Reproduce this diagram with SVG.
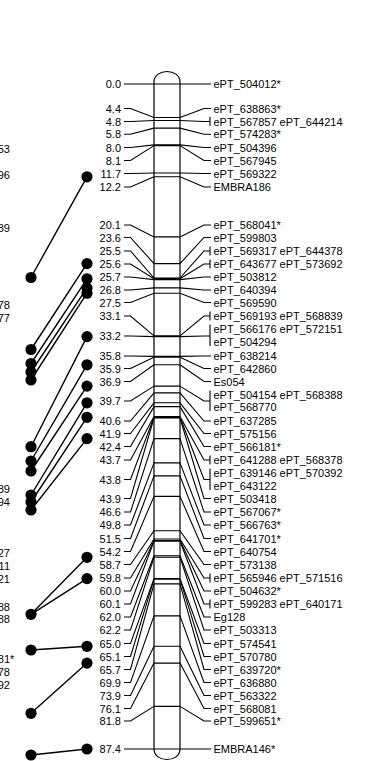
<svg xmlns="http://www.w3.org/2000/svg" width="368" height="761" viewBox="0 0 368 761">
<style>
text{font-family:"Liberation Sans",Arial,sans-serif;font-size:11px;fill:#000}
.l{text-anchor:end}
.t{fill:none;stroke:#000;stroke-width:1.1}
.c{fill:none;stroke:#000;stroke-width:1.4}
.d{fill:#000}
.chr{fill:#fff;stroke:#000;stroke-width:1.2}
.loc{stroke:#000;stroke-width:1.1}
</style>
<rect width="368" height="761" fill="#fff"/>
<g id="prev-labels">
<text class="l" x="10" y="153">53</text>
<text class="l" x="10" y="179">96</text>
<text class="l" x="10" y="232">89</text>
<text class="l" x="10" y="308.5">78</text>
<text class="l" x="10" y="321.5">77</text>
<text class="l" x="10" y="492.5">89</text>
<text class="l" x="10" y="505.5">94</text>
<text class="l" x="10" y="557">27</text>
<text class="l" x="10" y="570">11</text>
<text class="l" x="10" y="583">21</text>
<text class="l" x="10" y="610.5">88</text>
<text class="l" x="10" y="623">88</text>
<text class="l" x="14.3" y="663">181*</text>
<text class="l" x="10" y="676">78</text>
<text class="l" x="10" y="689">92</text>
</g>
<g id="connectors">
<path class="c" d="M87,176.8L31,277.5M87,263.6L31,349.5M87,278.8L31,363.5M87,287.9L31,372M87,293.2L31,380M87,336.6L31,446.7M87,364.8L31,461M87,386.1L31,471M87,402.8L31,495M87,417.3L31,502M87,438.6L31,510M87,557.3L31,614.3M87,578.6L31,614.3M87,646.3L31,650M87,663.1L31,713.3M87,749L31,755"/>
</g>
<g id="dots">
<circle class="d" cx="87" cy="176.8" r="5.6"/>
<circle class="d" cx="87" cy="263.6" r="5.6"/>
<circle class="d" cx="87" cy="278.8" r="5.6"/>
<circle class="d" cx="87" cy="287.9" r="5.6"/>
<circle class="d" cx="87" cy="293.2" r="5.6"/>
<circle class="d" cx="87" cy="336.6" r="5.6"/>
<circle class="d" cx="87" cy="364.8" r="5.6"/>
<circle class="d" cx="87" cy="386.1" r="5.6"/>
<circle class="d" cx="87" cy="402.8" r="5.6"/>
<circle class="d" cx="87" cy="417.3" r="5.6"/>
<circle class="d" cx="87" cy="438.6" r="5.6"/>
<circle class="d" cx="87" cy="557.3" r="5.6"/>
<circle class="d" cx="87" cy="578.6" r="5.6"/>
<circle class="d" cx="87" cy="646.3" r="5.6"/>
<circle class="d" cx="87" cy="663.1" r="5.6"/>
<circle class="d" cx="87" cy="749" r="5.6"/>
<circle class="d" cx="31" cy="277.5" r="5.6"/>
<circle class="d" cx="31" cy="349.5" r="5.6"/>
<circle class="d" cx="31" cy="363.5" r="5.6"/>
<circle class="d" cx="31" cy="372" r="5.6"/>
<circle class="d" cx="31" cy="380" r="5.6"/>
<circle class="d" cx="31" cy="446.7" r="5.6"/>
<circle class="d" cx="31" cy="461" r="5.6"/>
<circle class="d" cx="31" cy="471" r="5.6"/>
<circle class="d" cx="31" cy="495" r="5.6"/>
<circle class="d" cx="31" cy="502" r="5.6"/>
<circle class="d" cx="31" cy="510" r="5.6"/>
<circle class="d" cx="31" cy="614.3" r="5.6"/>
<circle class="d" cx="31" cy="650" r="5.6"/>
<circle class="d" cx="31" cy="713.3" r="5.6"/>
<circle class="d" cx="31" cy="755" r="5.6"/>
</g>
<g id="chromosome">
<path class="chr" d="M154,749V82C154,68 180,68 180,82V749C180,763 154,763 154,749Z"/>
<path class="loc" d="M154,84H180M154,117.5H180M154,120.5H180M154,128.1H180M154,144.9H180M154,145.6H180M154,173H180M154,176.8H180M154,236.9H180M154,263.6H180M154,278H180M154,278.8H180M154,279.6H180M154,287.9H180M154,293.2H180M154,335.9H180M154,336.6H180M154,356.4H180M154,357.2H180M154,364.8H180M154,386.1H180M154,392.9H180M154,402.8H180M154,406.6H180M154,416.5H180M154,417.3H180M154,418H180M154,438.6H180M154,462.9H180M154,475.9H180M154,496.4H180M154,530.7H180M154,539H180M154,540.5H180M154,541.3H180M154,555.8H180M154,557.3H180M154,578.6H180M154,579.3H180M154,583.9H180M154,615.9H180M154,646.3H180M154,663.1H180M154,706.4H180M154,749H180"/>
</g>
<g id="m0"><path class="t" d="M124,84H154M180,84H211"/><text class="l" x="121" y="88">0.0</text><text x="213.5" y="88">ePT_504012*</text></g>
<g id="m1"><path class="t" d="M124,108.5H130.5L154,117.5M180,117.5L204,108.5H211"/><text class="l" x="121" y="112.5">4.4</text><text x="213.5" y="112.5">ePT_638863*</text></g>
<g id="m2"><path class="t" d="M124,121.5H130.5L154,120.5M180,120.5L204,121.5H210M210,117V126"/><text class="l" x="121" y="125.5">4.8</text><text x="213.5" y="125.5">ePT_567857 ePT_644214</text></g>
<g id="m3"><path class="t" d="M124,134.3H130.5L154,128.1M180,128.1L204,134.3H211"/><text class="l" x="121" y="138.3">5.8</text><text x="213.5" y="138.3">ePT_574283*</text></g>
<g id="m4"><path class="t" d="M124,147.5H130.5L154,144.9M180,144.9L204,147.5H211"/><text class="l" x="121" y="151.5">8.0</text><text x="213.5" y="151.5">ePT_504396</text></g>
<g id="m5"><path class="t" d="M124,160.5H130.5L154,145.6M180,145.6L204,160.5H211"/><text class="l" x="121" y="164.5">8.1</text><text x="213.5" y="164.5">ePT_567945</text></g>
<g id="m6"><path class="t" d="M124,173.5H130.5L154,173M180,173L204,173.5H211"/><text class="l" x="121" y="177.5">11.7</text><text x="213.5" y="177.5">ePT_569322</text></g>
<g id="m7"><path class="t" d="M124,187H130.5L154,176.8M180,176.8L204,187H211"/><text class="l" x="121" y="191">12.2</text><text x="213.5" y="191">EMBRA186</text></g>
<g id="m8"><path class="t" d="M124,225H130.5L154,236.9M180,236.9L204,225H211"/><text class="l" x="121" y="229">20.1</text><text x="213.5" y="229">ePT_568041*</text></g>
<g id="m9"><path class="t" d="M124,237.5H130.5L154,263.6M180,263.6L204,237.5H211"/><text class="l" x="121" y="241.5">23.6</text><text x="213.5" y="241.5">ePT_599803</text></g>
<g id="m10"><path class="t" d="M124,251H130.5L154,278M180,278L204,251H210M210,246.5V255.5"/><text class="l" x="121" y="255">25.5</text><text x="213.5" y="255">ePT_569317 ePT_644378</text></g>
<g id="m11"><path class="t" d="M124,264H130.5L154,278.8M180,278.8L204,264H210M210,259.5V268.5"/><text class="l" x="121" y="268">25.6</text><text x="213.5" y="268">ePT_643677 ePT_573692</text></g>
<g id="m12"><path class="t" d="M124,277H130.5L154,279.6M180,279.6L204,277H211"/><text class="l" x="121" y="281">25.7</text><text x="213.5" y="281">ePT_503812</text></g>
<g id="m13"><path class="t" d="M124,290H130.5L154,287.9M180,287.9L204,290H211"/><text class="l" x="121" y="294">26.8</text><text x="213.5" y="294">ePT_640394</text></g>
<g id="m14"><path class="t" d="M124,302.5H130.5L154,293.2M180,293.2L204,302.5H211"/><text class="l" x="121" y="306.5">27.5</text><text x="213.5" y="306.5">ePT_569590</text></g>
<g id="m15"><path class="t" d="M124,316H130.5L154,335.9M180,335.9L204,316H210M210,311.5V320.5"/><text class="l" x="121" y="320">33.1</text><text x="213.5" y="320">ePT_569193 ePT_568839</text></g>
<g id="m16"><path class="t" d="M124,336H130.5L154,336.6M180,336.6L204,336H210M210,324.5V346"/><text class="l" x="121" y="340">33.2</text><text x="213.5" y="333">ePT_566176 ePT_572151</text><text x="213.5" y="346">ePT_504294</text></g>
<g id="m17"><path class="t" d="M124,356H130.5L154,356.4M180,356.4L204,356H211"/><text class="l" x="121" y="360">35.8</text><text x="213.5" y="360">ePT_638214</text></g>
<g id="m18"><path class="t" d="M124,368.5H130.5L154,357.2M180,357.2L204,368.5H211"/><text class="l" x="121" y="372.5">35.9</text><text x="213.5" y="372.5">ePT_642860</text></g>
<g id="m19"><path class="t" d="M124,381.5H130.5L154,364.8M180,364.8L204,381.5H211"/><text class="l" x="121" y="385.5">36.9</text><text x="213.5" y="385.5">Es054</text></g>
<g id="m20"><path class="t" d="M124,401H130.5L154,386.1M180,386.1L204,401H210M210,390.5V411"/><text class="l" x="121" y="405">39.7</text><text x="213.5" y="399">ePT_504154 ePT_568388</text><text x="213.5" y="411">ePT_568770</text></g>
<g id="m21"><path class="t" d="M124,421H130.5L154,392.9M180,392.9L204,421H211"/><text class="l" x="121" y="425">40.6</text><text x="213.5" y="425">ePT_637285</text></g>
<g id="m22"><path class="t" d="M124,433.5H130.5L154,402.8M180,402.8L204,433.5H211"/><text class="l" x="121" y="437.5">41.9</text><text x="213.5" y="437.5">ePT_575156</text></g>
<g id="m23"><path class="t" d="M124,446.5H130.5L154,406.6M180,406.6L204,446.5H211"/><text class="l" x="121" y="450.5">42.4</text><text x="213.5" y="450.5">ePT_566181*</text></g>
<g id="m24"><path class="t" d="M124,460H130.5L154,416.5M180,416.5L204,460H210M210,455.5V464.5"/><text class="l" x="121" y="464">43.7</text><text x="213.5" y="464">ePT_641288 ePT_568378</text></g>
<g id="m25"><path class="t" d="M124,479.5H130.5L154,417.3M180,417.3L204,479.5H210M210,468.5V490"/><text class="l" x="121" y="483.5">43.8</text><text x="213.5" y="477">ePT_639146 ePT_570392</text><text x="213.5" y="490">ePT_643122</text></g>
<g id="m26"><path class="t" d="M124,498.5H130.5L154,418M180,418L204,498.5H211"/><text class="l" x="121" y="502.5">43.9</text><text x="213.5" y="502.5">ePT_503418</text></g>
<g id="m27"><path class="t" d="M124,512H130.5L154,438.6M180,438.6L204,512H211"/><text class="l" x="121" y="516">46.6</text><text x="213.5" y="516">ePT_567067*</text></g>
<g id="m28"><path class="t" d="M124,525H130.5L154,462.9M180,462.9L204,525H211"/><text class="l" x="121" y="529">49.8</text><text x="213.5" y="529">ePT_566763*</text></g>
<g id="m29"><path class="t" d="M124,538.5H130.5L154,475.9M180,475.9L204,538.5H211"/><text class="l" x="121" y="542.5">51.5</text><text x="213.5" y="542.5">ePT_641701*</text></g>
<g id="m30"><path class="t" d="M124,551.5H130.5L154,496.4M180,496.4L204,551.5H211"/><text class="l" x="121" y="555.5">54.2</text><text x="213.5" y="555.5">ePT_640754</text></g>
<g id="m31"><path class="t" d="M124,564.5H130.5L154,530.7M180,530.7L204,564.5H211"/><text class="l" x="121" y="568.5">58.7</text><text x="213.5" y="568.5">ePT_573138</text></g>
<g id="m32"><path class="t" d="M124,578H130.5L154,539M180,539L204,578H210M210,573.5V582.5"/><text class="l" x="121" y="582">59.8</text><text x="213.5" y="582">ePT_565946 ePT_571516</text></g>
<g id="m33"><path class="t" d="M124,591H130.5L154,540.5M180,540.5L204,591H211"/><text class="l" x="121" y="595">60.0</text><text x="213.5" y="595">ePT_504632*</text></g>
<g id="m34"><path class="t" d="M124,604H130.5L154,541.3M180,541.3L204,604H210M210,599.5V608.5"/><text class="l" x="121" y="608">60.1</text><text x="213.5" y="608">ePT_599283 ePT_640171</text></g>
<g id="m35"><path class="t" d="M124,617H130.5L154,555.8M180,555.8L204,617H211"/><text class="l" x="121" y="621">62.0</text><text x="213.5" y="621">Eg128</text></g>
<g id="m36"><path class="t" d="M124,630H130.5L154,557.3M180,557.3L204,630H211"/><text class="l" x="121" y="634">62.2</text><text x="213.5" y="634">ePT_503313</text></g>
<g id="m37"><path class="t" d="M124,643.5H130.5L154,578.6M180,578.6L204,643.5H211"/><text class="l" x="121" y="647.5">65.0</text><text x="213.5" y="647.5">ePT_574541</text></g>
<g id="m38"><path class="t" d="M124,656.5H130.5L154,579.3M180,579.3L204,656.5H211"/><text class="l" x="121" y="660.5">65.1</text><text x="213.5" y="660.5">ePT_570780</text></g>
<g id="m39"><path class="t" d="M124,669.5H130.5L154,583.9M180,583.9L204,669.5H211"/><text class="l" x="121" y="673.5">65.7</text><text x="213.5" y="673.5">ePT_639720*</text></g>
<g id="m40"><path class="t" d="M124,682.5H130.5L154,615.9M180,615.9L204,682.5H211"/><text class="l" x="121" y="686.5">69.9</text><text x="213.5" y="686.5">ePT_636880</text></g>
<g id="m41"><path class="t" d="M124,695.5H130.5L154,646.3M180,646.3L204,695.5H211"/><text class="l" x="121" y="699.5">73.9</text><text x="213.5" y="699.5">ePT_563322</text></g>
<g id="m42"><path class="t" d="M124,708.5H130.5L154,663.1M180,663.1L204,708.5H211"/><text class="l" x="121" y="712.5">76.1</text><text x="213.5" y="712.5">ePT_568081</text></g>
<g id="m43"><path class="t" d="M124,721H130.5L154,706.4M180,706.4L204,721H211"/><text class="l" x="121" y="725">81.8</text><text x="213.5" y="725">ePT_599651*</text></g>
<g id="m44"><path class="t" d="M124,749H154M180,749H211"/><text class="l" x="121" y="753">87.4</text><text x="213.5" y="753">EMBRA146*</text></g>
</svg>
